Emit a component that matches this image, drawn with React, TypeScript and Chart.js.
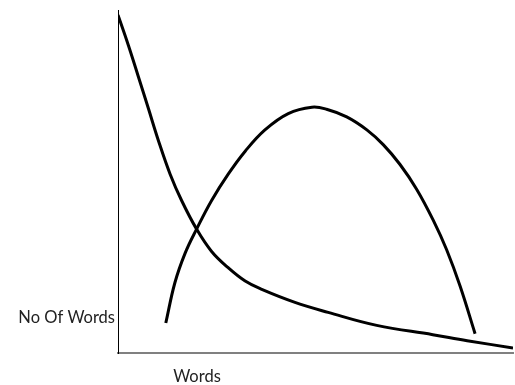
import React, { useEffect, useRef } from "react";
import { Chart, registerables } from "chart.js";

Chart.register(...registerables);

// Abstract units: x 0..100 along the words axis, y 0..100 (no of words)
const decayX = [0, 2.6, 5.1, 7.7, 10.2, 13.2, 16.1, 19.9, 23.7, 27.9, 32.2, 36.4, 44.8, 53.2, 65.5, 79.7, 88.4, 100];
const decayY = [100, 91.0, 81.7, 71.9, 62.4, 52.2, 44.3, 35.7, 29.0, 24.1, 20.1, 17.6, 13.7, 10.7, 6.8, 4.0, 2.2, 0];
const archX = [12.1, 14.4, 17.0, 19.9, 23.7, 27.9, 32.2, 37.2, 43.1, 49.1, 52.8, 57.9, 63.0, 67.2, 71.4, 75.6, 79.8, 83.2, 86.6, 90.4];
const archY = [7.5, 19.6, 28.5, 35.7, 44.3, 52.2, 59.1, 65.5, 70.4, 72.3, 71.7, 69.4, 65.5, 61.0, 55.1, 47.7, 38.4, 29.5, 18.6, 4.3];

const yAxisLabel = "No Of Words";
const xAxisLabel = "Words";

const FONT = "Lato, 'Open Sans', sans-serif";

const labelsPlugin = {
  id: "axisLabels",
  afterDraw(chart: any) {
    const { ctx, chartArea } = chart;
    ctx.save();
    ctx.fillStyle = "#222";
    ctx.font = `16.5px ${FONT}`;
    ctx.textBaseline = "alphabetic";
    ctx.textAlign = "right";
    ctx.fillText(yAxisLabel, chartArea.left - 3, 323);
    ctx.textAlign = "center";
    ctx.fillText(xAxisLabel, 197, 382);
    ctx.restore();
  },
};

export default function App() {
  const ref = useRef<HTMLCanvasElement | null>(null);

  useEffect(() => {
    if (!ref.current) return;
    const chart = new Chart(ref.current, {
      type: "scatter",
      data: {
        datasets: [
          {
            data: decayX.map((x, i) => ({ x, y: decayY[i] })),
            showLine: true,
            borderColor: "#000",
            borderWidth: 3,
            pointRadius: 0,
            tension: 0.4,
          },
          {
            data: archX.map((x, i) => ({ x, y: archY[i] })),
            showLine: true,
            borderColor: "#000",
            borderWidth: 3,
            pointRadius: 0,
            tension: 0.4,
          },
        ],
      },
      options: {
        animation: false,
        responsive: false,
        maintainAspectRatio: false,
        layout: { padding: { left: 118, right: 2, top: 10, bottom: 32 } },
        plugins: {
          legend: { display: false },
          tooltip: { enabled: false },
        },
        scales: {
          x: {
            type: "linear",
            min: 0,
            max: 100,
            ticks: { display: false },
            grid: { display: false, drawTicks: false },
            border: { display: true, color: "#808080", width: 2 },
            afterFit: (s: any) => {
              s.height = 0;
            },
          },
          y: {
            type: "linear",
            min: -1.5,
            max: 101.5,
            ticks: { display: false },
            grid: { display: false, drawTicks: false },
            border: { display: true, color: "#000", width: 1 },
            afterFit: (s: any) => {
              s.width = 0;
            },
          },
        },
      } as any,
      plugins: [labelsPlugin],
    });
    return () => chart.destroy();
  }, []);

  return (
    <div style={{ position: "fixed", left: 0, top: 0, width: 515, height: 385, background: "#fff" }}>
      <canvas ref={ref} width={515} height={385} style={{ width: 515, height: 385 }} />
    </div>
  );
}
